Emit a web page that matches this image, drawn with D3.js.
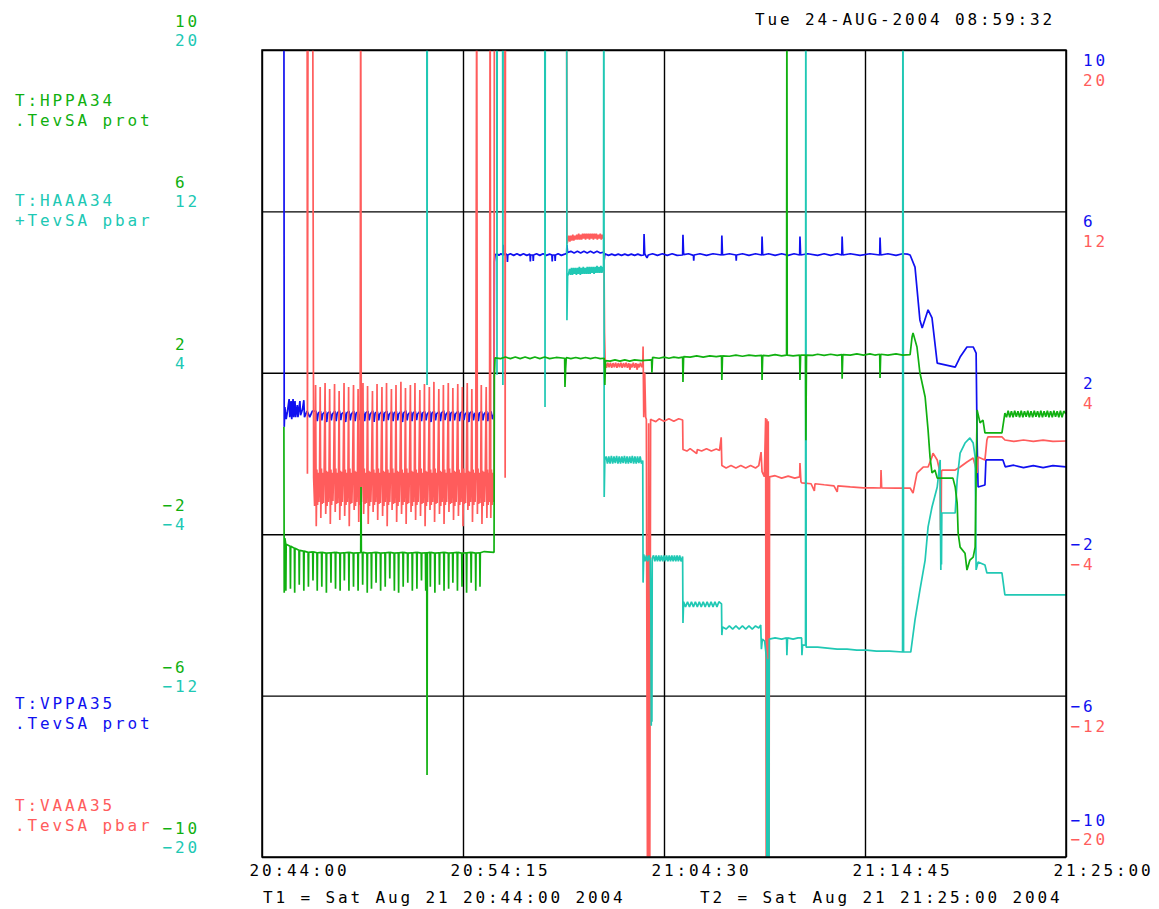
<!DOCTYPE html>
<html>
<head>
<meta charset="utf-8">
<script src="https://cdn.jsdelivr.net/npm/d3@7"></script>
<style>
  body{margin:0;background:#fff;}
  svg text{font-family:"DejaVu Sans Mono",monospace;font-size:16px;letter-spacing:2.87px;}
</style>
</head>
<body>
<svg id="chart" width="1159" height="909"></svg>
<script>
// time in seconds after T1 (20:44:00)
const tickTimes = [0, 615, 1230, 1845, 2460];
const tickLabels = ["20:44:00", "20:54:15", "21:04:30", "21:14:45", "21:25:00"];
const ticksProt = [10, 6, 2, -2, -6, -10];     // HPPA34 / VPPA35 scale
const ticksPbar = [20, 12, 4, -4, -12, -20];   // HAAA34 / VAAA35 scale
const stamp = "Tue 24-AUG-2004 08:59:32";
const t1Text = "T1 = Sat Aug 21 20:44:00 2004";
const t2Text = "T2 = Sat Aug 21 21:25:00 2004";

// T:VPPA35 (blue, -10..10)
const vppa35 = [
 [67,12],[68,0.66],[70,1.15],[74,0.85],[78,1.05],[83,1.35],[85,0.9],[89,1.3],[91,0.85],[95,1.35],[97,0.9],[101,1.3],[103,0.9],[108,1.2],[110,0.9],[116,1.3],[118,0.95],[124,1.1],[128,1.32],[130,0.9],[138,1.05],[146,0.9],[154,1.05],
 [165,1.05],[169,0.8],[172,1.0],[179,1.05],[183,0.82],[186,0.98],[194,1.05],[198,0.78],[201,1.0],[208,1.04],[212,0.82],[215,0.97],[223,1.05],[227,0.8],[230,1.0],[237,1.06],[241,0.83],[244,0.98],[252,1.04],[256,0.78],[259,1.0],[266,1.05],[270,0.82],[273,0.97],[281,1.05],[285,0.8],[288,1.0],[295,1.04],[299,0.83],[302,0.98],[310,1.05],[314,0.8],[317,1.0],[324,1.05],[328,0.82],[331,0.97],[339,1.06],[343,0.78],[346,1.0],[353,1.04],[357,0.82],[360,0.98],[368,1.05],[372,0.8],[375,1.0],[382,1.05],[386,0.83],[389,0.97],[397,1.04],[401,0.8],[404,1.0],[411,1.05],[415,0.82],[418,0.98],[426,1.05],[430,0.78],[433,1.0],[440,1.06],[444,0.82],[447,0.97],[455,1.04],[459,0.8],[462,1.0],[469,1.05],[473,0.83],[476,0.98],[484,1.05],[488,0.8],[491,1.0],[498,1.04],[502,0.82],[505,0.97],[513,1.05],[517,0.78],[520,1.0],[527,1.05],[531,0.82],[534,0.98],[542,1.04],[546,0.8],[549,1.0],[556,1.06],[560,0.83],[563,0.97],[571,1.05],[575,0.8],[578,1.0],[585,1.04],[589,0.82],[592,0.98],[600,1.05],[604,0.8],[607,1.0],[614,1.05],[618,0.83],[621,0.97],[629,1.04],[633,0.78],[636,1.0],[643,1.05],[647,0.82],[650,0.98],[658,1.05],[662,0.8],[665,1.0],[672,1.04],[676,0.82],[679,0.97],[687,1.05],[691,0.8],[694,1.0],[701,1.04],[705,0.85],[710,1.0],
 [711,4.75],[713,4.92],[719,4.95],[725,4.91],[731,4.95],[737,4.92],[738,5.17],[739,4.92],[745,4.95],[750,4.92],[751,4.75],[752,4.92],[760,4.95],[770,4.91],[780,4.95],[790,4.91],[800,4.95],[810,4.91],[820,4.94],[821,4.76],[822,4.92],[829,4.92],[830,4.77],[831,4.92],[840,4.95],[850,4.91],[860,4.95],[870,4.91],[880,4.94],[887,4.92],[888,4.76],[889,4.92],[896,4.92],[897,4.77],[898,4.92],[906,4.95],[916,4.91],[926,4.94],
 [932,4.96],[933,5.17],[935,4.98],[945,5.01],[955,4.97],[965,5.01],[975,4.97],[985,5.01],[995,4.97],[1005,5.01],[1015,4.97],[1025,5.01],[1035,4.97],[1046,4.99],[1047,4.8],[1049,4.95],[1060,4.91],[1070,4.94],[1080,4.91],[1090,4.94],[1100,4.91],[1110,4.94],[1120,4.91],[1130,4.94],[1140,4.91],[1150,4.94],[1160,4.91],[1168,4.92],[1169,5.44],[1171,4.95],[1178,4.85],[1182,4.92],
 [1195,4.95],[1210,4.91],[1225,4.95],[1240,4.91],[1255,4.95],[1270,4.91],[1287,4.92],[1288,5.42],[1290,4.93],[1305,4.95],[1320,4.91],[1321,4.78],[1322,4.92],[1340,4.95],[1360,4.91],[1380,4.95],[1406,4.92],[1407,5.4],[1409,4.92],[1430,4.95],[1450,4.92],[1451,4.78],[1452,4.92],[1470,4.95],[1490,4.91],[1510,4.95],[1529,4.92],[1530,5.38],[1532,4.92],
 [1550,4.95],[1570,4.91],[1590,4.95],[1610,4.91],[1628,4.95],[1645,4.92],[1646,5.38],[1648,4.92],[1670,4.95],[1700,4.91],[1720,4.95],[1740,4.91],[1760,4.95],[1774,4.92],[1775,5.38],[1777,4.92],[1800,4.95],[1830,4.91],[1860,4.95],[1890,4.92],[1891,5.35],[1893,4.92],[1915,4.95],[1940,4.91],[1960,4.95],[1975,4.94],[1983,4.92],
 [1998,4.62],[2013,3.31],[2020,3.11],[2038,3.56],[2050,3.36],[2066,2.24],[2121,2.14],[2136,2.39],[2157,2.64],[2176,2.64],[2185,2.49],[2188,0.33],[2191,-0.83],[2212,-0.78],[2215,-0.16],[2267,-0.16],[2274,-0.33],
 [2300,-0.29],[2330,-0.35],[2360,-0.3],[2390,-0.35],[2420,-0.3],[2460,-0.33]
];

// T:VAAA35 (red, -20..20)
const vaaa35 = [
 [0,25],[138,25],[139,-1.0],[141,25],[155,25],[158,-1.2],[161,-2.6],
 [164,3.4],[166,-3.6],[168,-0.8],[170,-2.55],[172,-0.95],[174,-2.4],[176,-1.05],
 [178,3.3],[180,-3.2],[182,-0.75],[184,-2.5],[186,-0.95],[188,-2.45],[190,-1.05],
 [193,3.5],[195,-3.0],[197,-0.85],[199,-2.6],[201,-0.9],[203,-2.4],[205,-1.1],
 [207,3.2],[209,-3.5],[211,-0.8],[213,-2.55],[215,-0.95],[217,-2.35],[219,-1.05],
 [222,3.45],[224,-2.9],[226,-0.75],[228,-2.5],[230,-0.95],[232,-2.45],[234,-1.05],
 [236,3.1],[238,-3.3],[240,-0.85],[242,-2.6],[244,-0.9],[246,-2.4],[248,-1.1],
 [251,3.5],[253,-3.1],[255,-0.8],[257,-2.55],[259,-0.95],[261,-2.4],[263,-1.05],
 [265,3.3],[267,-3.6],[269,-0.75],[271,-2.5],[273,-0.95],[275,-2.45],[277,-1.05],
 [280,3.4],[282,-2.8],[284,-0.85],[286,-2.6],[288,-0.9],[290,-2.4],[292,-1.1],
 [294,3.2],[296,-3.4],[298,-0.8],[300,-2.55],[302,25],[304,-2.4],[306,-1.05],
 [309,3.5],[311,-3.0],[313,-0.75],[315,-2.5],[317,-0.95],[319,-2.45],[321,-1.05],
 [323,3.35],[325,-3.5],[327,-0.85],[329,-2.6],[331,-0.9],[333,-2.4],[335,-1.1],
 [338,3.1],[340,-2.9],[342,-0.8],[344,-2.55],[346,-0.95],[348,-2.4],[350,-1.05],
 [352,3.45],[354,-3.3],[356,-0.75],[358,-2.5],[360,-0.95],[362,-2.45],[364,-1.05],
 [367,3.3],[369,-3.1],[371,-0.85],[373,-2.6],[375,-0.9],[377,-2.4],[379,-1.1],
 [381,3.5],[383,-3.6],[385,-0.8],[387,-2.55],[389,-0.95],[391,-2.4],[393,-1.05],
 [396,3.2],[398,-2.8],[400,-0.75],[402,-2.5],[404,-0.95],[406,-2.45],[408,-1.05],
 [410,3.4],[412,-3.4],[414,-0.85],[416,-2.6],[418,-0.9],[420,-2.4],[422,-1.1],
 [425,3.55],[427,-3.0],[429,-0.8],[431,-2.55],[433,-0.95],[435,-2.4],[437,-1.05],
 [439,3.25],[441,-3.5],[443,-0.75],[445,-2.5],[447,-0.95],[449,-2.45],[451,-1.05],
 [454,3.4],[456,-2.9],[458,-0.85],[460,-2.6],[462,-0.9],[464,-2.4],[466,-1.1],
 [468,3.5],[470,-3.3],[472,-0.8],[474,-2.55],[476,-0.95],[478,-2.4],[480,-1.05],
 [483,3.15],[485,-3.1],[487,-0.75],[489,-2.5],[491,-0.95],[493,-2.45],[495,-1.05],
 [497,3.45],[499,-3.6],[501,-0.85],[503,-2.6],[505,-0.9],[507,-2.4],[509,-1.1],
 [512,3.3],[514,-2.8],[516,-0.8],[518,-2.55],[520,-0.95],[522,-2.4],[524,-1.05],
 [526,3.55],[528,-3.4],[530,-0.75],[532,-2.5],[534,-0.95],[536,-2.45],[538,-1.05],
 [541,3.2],[543,-3.0],[545,-0.85],[547,-2.6],[549,-0.9],[551,-2.4],[553,-1.1],
 [555,3.4],[557,-3.5],[559,-0.8],[561,-2.55],[563,-0.95],[565,-2.4],[567,-1.05],
 [570,3.5],[572,-2.9],[574,-0.75],[576,-2.5],[578,-0.95],[580,-2.45],[582,-1.05],
 [584,3.25],[586,-3.3],[588,-0.85],[590,-2.6],[592,-0.9],[594,-2.4],[596,-1.1],
 [599,3.45],[601,-3.1],[603,-0.8],[605,-2.55],[607,-0.95],[609,-2.4],[611,-1.05],
 [613,3.3],[615,-3.6],[617,-0.75],[619,-2.5],[621,-0.95],[623,-2.45],[625,-1.05],
 [628,3.5],[630,-2.8],[632,-0.85],[634,-2.6],[636,-0.9],[638,-2.4],[640,-1.1],
 [642,3.2],[644,-3.4],[646,-0.8],[648,-2.55],[650,-0.95],[652,-2.4],[654,-1.05],
 [657,25],[659,-3.0],[661,-0.75],[663,-2.5],[665,-0.95],[667,-2.45],[669,-1.05],
 [671,3.4],[673,-3.5],[675,-0.85],[677,-2.6],[679,-0.9],[681,-2.4],[683,-1.1],
 [686,3.3],[688,-3.2],[690,-0.8],[692,-2.55],[694,-0.95],[696,-2.4],
 [698,25],[700,-3.2],[702,-0.8],[704,-2.55],[706,-0.95],[708,-2.4],[710,-1.1],
 [711,25],[743,25],[744,-1.2],[745,25],[932,25],
 [933,10.4],[936,10.55],[939,10.8],[942,10.5],[945,10.8],[948,10.55],[951,10.85],[954,10.55],[957,10.8],[960,10.6],[963,10.85],[966,10.6],[969,10.9],[972,10.6],[975,10.85],[978,10.6],[981,10.9],[984,10.65],[987,10.9],[990,10.6],[993,10.9],[996,10.65],[999,10.9],[1002,10.6],[1005,10.9],[1008,10.65],[1011,10.9],[1014,10.6],[1017,10.9],[1020,10.65],[1023,10.9],[1026,10.6],[1029,10.85],[1032,10.65],[1035,10.9],[1038,10.6],[1041,10.85],[1044,10.65],[1046,10.7],
 [1048,6.0],[1050,4.5],[1054,4.25],[1058,4.5],[1062,4.28],[1066,4.5],[1070,4.25],[1074,4.48],[1078,4.27],[1082,4.5],[1086,4.25],[1090,4.48],[1094,4.28],[1098,4.5],[1102,4.25],[1106,4.48],[1110,4.27],[1114,4.5],[1118,4.25],[1122,4.48],[1126,4.15],[1128,4.45],[1132,4.27],[1136,4.5],[1140,4.25],[1144,4.48],[1148,4.15],[1150,4.45],[1154,4.27],[1158,4.5],[1162,4.28],[1165,4.4],
 [1166,5.3],[1168,1.8],[1171,4.0],[1174,1.8],[1176,1.7],[1180,-25],[1183,1.5],[1186,-25],[1189,1.7],[1193,1.66],[1205,1.58],[1215,1.72],[1230,1.6],[1245,1.72],[1260,1.6],[1275,1.72],[1287,1.66],
 [1288,0.2],[1300,0.12],[1310,0.24],[1320,0.12],[1330,0.0],[1332,0.2],[1345,0.12],[1360,0.24],[1375,0.12],[1390,0.22],[1400,0.15],[1405,0.8],[1407,-0.6],[1420,-0.72],[1435,-0.6],[1450,-0.72],[1465,-0.6],[1480,-0.72],[1495,-0.6],[1510,-0.72],[1520,-0.6],[1527,0.07],[1530,-0.9],[1537,-1.15],
 [1541,1.76],[1543,-25],[1545,1.7],[1547,-25],[1549,1.6],[1551,-25],[1553,-1.16],[1570,-1.1],[1590,-1.22],[1610,-1.12],[1630,-1.22],[1645,-1.16],[1646,-0.47],[1649,-1.4],[1652,-1.46],
 [1680,-1.5],[1690,-1.85],[1692,-1.5],[1720,-1.55],[1750,-1.6],[1760,-1.9],[1762,-1.6],[1800,-1.65],[1840,-1.7],[1870,-1.7],[1893,-1.71],[1894,-0.82],[1896,-1.71],[1940,-1.72],[1983,-1.71],
 [1992,-1.96],[2004,-0.97],[2023,-0.67],[2038,-0.67],[2050,-0.17],[2053,0.02],[2066,-0.32],[2075,-0.97],[2076,-3.79],[2077,-0.82],[2078,-3.7],[2079,-0.9],[2081,-0.82],[2121,-0.82],[2136,-0.67],[2157,-0.42],[2176,-0.22],[2188,-0.97],[2191,-0.17],[2212,-0.32],[2218,0.67],[2221,0.82],[2264,0.82],[2273,0.67],
 [2300,0.6],[2330,0.67],[2360,0.6],[2390,0.66],[2420,0.6],[2460,0.62]
];

// T:HAAA34 (cyan, -20..20)
const haaa34 = [
 [0,30],[504,30],[505,3.4],[506,30],[718,30],[719,3.9],[720,30],[736,30],[737,3.4],[738,30],[865,30],[866,2.3],[867,30],[932,30],
 [933,6.6],[935,8.8],[938,8.9],[941,9.15],[944,8.85],[947,9.2],[950,8.85],[953,9.2],[956,8.9],[959,9.2],[962,8.85],[965,9.2],[968,8.9],[971,9.25],[974,8.85],[977,9.2],[980,8.9],[983,9.25],[986,8.9],[989,9.2],[992,8.9],[995,9.25],[998,8.9],[1001,9.25],[1004,8.9],[1007,9.25],[1010,8.95],[1013,9.25],[1016,8.9],[1019,9.25],[1022,8.95],[1025,9.3],[1028,8.95],[1031,9.25],[1034,8.95],[1037,9.3],[1040,8.95],[1043,9.25],[1045,9.1],
 [1046,30],[1047,-2.16],[1049,-0.3],[1053,-0.15],[1057,-0.5],[1061,-0.15],[1065,-0.5],[1069,-0.12],[1073,-0.5],[1077,-0.15],[1081,-0.48],[1085,-0.12],[1089,-0.5],[1093,-0.15],[1097,-0.5],[1101,-0.15],[1105,-0.48],[1109,-0.12],[1113,-0.5],[1117,-0.15],[1121,-0.5],[1125,-0.15],[1129,-0.48],[1133,-0.12],[1137,-0.5],[1141,-0.15],[1145,-0.5],[1149,-0.15],[1153,-0.48],[1157,-0.15],[1161,-0.5],[1165,-0.35],
 [1166,-6.4],[1168,-5.0],[1172,-5.35],[1176,-5.05],[1180,-5.35],[1184,-5.05],[1188,-5.3],[1190,-8.0],[1191,-13.5],[1192,-9],[1193,-13.3],[1194,-5.2],[1198,-5.05],[1202,-5.35],[1206,-5.05],[1210,-5.35],[1214,-5.05],[1218,-5.35],[1222,-5.05],[1226,-5.35],[1230,-5.05],[1234,-5.35],[1238,-5.05],[1242,-5.35],[1246,-5.05],[1250,-5.35],[1254,-5.05],[1258,-5.35],[1262,-5.05],[1266,-5.35],[1270,-5.05],[1274,-5.35],[1278,-5.05],[1282,-5.35],[1287,-5.1],
 [1288,-8.4],[1290,-7.35],[1296,-7.6],[1302,-7.35],[1308,-7.6],[1314,-7.35],[1320,-7.6],[1326,-7.35],[1332,-7.6],[1338,-7.35],[1344,-7.6],[1350,-7.35],[1356,-7.6],[1362,-7.35],[1368,-7.6],[1374,-7.35],[1380,-7.6],[1386,-7.35],[1392,-7.6],[1398,-7.35],[1406,-7.45],
 [1407,-9.0],[1409,-8.6],[1420,-8.7],[1430,-8.55],[1440,-8.7],[1450,-8.55],[1460,-8.7],[1470,-8.55],[1480,-8.7],[1490,-8.55],[1500,-8.7],[1510,-8.55],[1520,-8.65],[1526,-8.5],[1528,-9.7],[1531,-9.2],[1538,-9.3],
 [1544,-10.2],[1545,-25],[1546,-10.4],[1547,-25],[1548,-10.2],[1549,-25],[1550,-10.4],[1551,-25],[1552,-9.2],[1570,-9.14],[1590,-9.2],[1605,-9.14],[1606,-10.0],[1608,-9.14],[1625,-9.2],[1640,-9.14],[1651,-9.14],[1652,-10.0],[1654,-9.5],[1663,-9.5],
 [1664,30],[1665,-9.6],[1700,-9.6],[1730,-9.65],[1760,-9.7],[1790,-9.7],[1820,-9.75],[1850,-9.75],[1880,-9.8],[1920,-9.8],[1960,-9.84],[1961,30],[1963,-9.84],[1985,-9.84],
 [1998,-8.25],[2013,-6.77],[2029,-5.28],[2038,-3.64],[2050,-2.65],[2066,-1.66],[2075,-0.32],[2076,-3.64],[2077,-5.77],[2078,-3.0],[2079,-5.5],[2080,-2.95],[2121,-2.95],[2127,-1.31],[2136,0.02],[2151,0.52],[2166,0.77],[2176,0.52],[2182,-0.17],[2185,-5.77],[2191,-5.38],[2212,-5.53],[2218,-5.92],[2264,-5.92],[2273,-7.01],[2460,-7.01]
];

// T:HPPA34 (green, -10..10)
const hppa34 = [
 [67,0.66],[68,-3.45],[70,-2.1],
 [72,-2.2],[73,-3.4],[74,-2.25],[86,-2.3],[87,-3.35],[88,-2.3],[99,-2.35],[100,-3.45],[101,-2.35],[113,-2.4],[114,-3.25],[115,-2.4],
 [127,-2.42],[128,-3.4],[129,-2.42],[141,-2.45],[142,-3.3],[143,-2.45],[155,-2.44],[156,-3.15],[157,-2.44],[168,-2.46],[169,-3.4],[170,-2.46],
 [182,-2.45],[183,-3.3],[184,-2.45],[196,-2.47],[197,-3.45],[198,-2.47],[210,-2.46],[211,-3.2],[212,-2.46],[224,-2.45],[225,-3.35],[226,-2.45],
 [238,-2.47],[239,-3.4],[240,-2.47],[251,-2.46],[252,-3.15],[253,-2.46],[265,-2.45],[266,-3.4],[267,-2.45],[279,-2.47],[280,-3.3],[281,-2.47],
 [293,-2.46],[294,-3.4],[295,-2.46],[302,-2.46],[303,-0.83],[304,-2.46],[307,-2.45],[308,-3.25],[309,-2.45],[321,-2.47],[322,-3.45],[323,-2.47],
 [334,-2.46],[335,-3.35],[336,-2.46],[348,-2.45],[349,-3.2],[350,-2.45],[362,-2.47],[363,-3.4],[364,-2.47],[376,-2.46],[377,-3.3],[378,-2.46],
 [390,-2.45],[391,-3.1],[392,-2.45],[404,-2.47],[405,-3.4],[406,-2.47],[417,-2.46],[418,-3.45],[419,-2.46],[431,-2.45],[432,-3.3],[433,-2.45],
 [445,-2.47],[446,-3.2],[447,-2.47],[459,-2.46],[460,-3.4],[461,-2.46],[473,-2.45],[474,-3.35],[475,-2.45],[487,-2.47],[488,-3.15],[489,-2.47],
 [500,-2.46],[501,-3.4],[502,-2.46],[504,-2.46],[505,-7.97],[506,-2.46],[514,-2.45],[515,-3.3],[516,-2.45],[528,-2.47],[529,-3.45],[530,-2.47],
 [542,-2.46],[543,-3.25],[544,-2.46],[556,-2.45],[557,-3.4],[558,-2.45],[570,-2.47],[571,-3.35],[572,-2.47],[583,-2.46],[584,-3.2],[585,-2.46],
 [597,-2.45],[598,-3.4],[599,-2.45],[611,-2.47],[612,-3.3],[613,-2.47],[625,-2.46],[626,-3.45],[627,-2.46],[639,-2.45],[640,-3.2],[641,-2.45],
 [653,-2.47],[654,-3.4],[655,-2.47],[666,-2.46],[667,-3.3],[668,-2.46],[680,-2.43],[710,-2.45],
 [711,1.9],[713,2.37],[730,2.35],[745,2.39],[760,2.35],[775,2.39],[790,2.35],[805,2.39],[820,2.35],[835,2.39],[850,2.35],[865,2.39],[880,2.35],[900,2.38],[926,2.36],[927,1.65],[929,2.1],[931,2.38],[945,2.35],[960,2.38],[975,2.35],[990,2.38],[1005,2.35],[1020,2.38],[1035,2.35],[1047,2.36],[1049,1.7],[1051,2.3],
 [1065,2.29],[1080,2.32],[1095,2.29],[1110,2.32],[1125,2.29],[1140,2.32],[1160,2.3],[1192,2.32],[1193,2.0],[1195,2.38],[1215,2.36],[1230,2.39],[1245,2.36],[1260,2.39],[1275,2.37],[1287,2.39],[1288,1.77],[1290,2.4],[1310,2.39],[1330,2.42],[1350,2.39],[1370,2.42],[1390,2.4],[1406,2.42],[1407,1.82],[1409,2.42],
 [1430,2.41],[1450,2.44],[1470,2.41],[1490,2.44],[1510,2.42],[1529,2.43],[1530,1.82],[1532,2.43],[1550,2.42],[1570,2.45],[1590,2.42],[1605,2.44],[1606,12],[1607,2.44],[1625,2.42],[1645,2.44],[1646,1.82],[1648,2.44],[1663,2.44],[1664,0.33],[1666,2.44],
 [1685,2.43],[1700,2.46],[1720,2.43],[1740,2.46],[1760,2.43],[1774,2.45],[1775,1.85],[1777,2.45],[1800,2.44],[1820,2.47],[1840,2.44],[1860,2.47],[1875,2.44],[1890,2.46],[1891,1.87],[1893,2.46],[1915,2.44],[1940,2.47],[1960,2.44],[1983,2.45],
 [1989,2.89],[1992,2.99],[2004,2.64],[2013,2.0],[2029,1.4],[2038,0.58],[2044,-0.09],[2050,-0.48],[2059,-0.41],[2066,-0.61],[2114,-0.61],[2121,-0.83],[2127,-1.23],[2130,-1.97],[2136,-2.32],[2151,-2.47],[2157,-2.89],[2166,-2.64],[2176,-2.57],[2182,-2.32],
 [2188,1.08],[2197,0.76],[2206,0.83],[2212,0.51],[2264,0.51],[2273,1.0],
 [2278,0.9],[2283,1.06],[2288,0.9],[2293,1.05],[2298,0.9],[2303,1.06],[2308,0.91],[2313,1.05],[2318,0.9],[2323,1.06],[2328,0.9],[2333,1.05],[2338,0.91],[2343,1.06],[2348,0.9],[2353,1.05],[2358,0.9],[2363,1.06],[2368,0.91],[2373,1.05],[2378,0.9],[2383,1.06],[2388,0.9],[2393,1.05],[2398,0.91],[2403,1.06],[2408,0.9],[2413,1.05],[2418,0.9],[2423,1.06],[2428,0.91],[2433,1.05],[2438,0.9],[2443,1.06],[2448,0.9],[2453,1.05],[2460,0.98]
];

const green = "#10b010", cyan = "#20c8b4", blue = "#1010f0", red = "#ff5c5c";

function draw(){
  var plotL = 262, plotR = 1066, plotT = 50, plotB = 857;
  var svg = d3.select("#chart");

  var x = d3.scaleLinear().domain([0, 2460]).range([plotL, plotR]);
  var yProt = d3.scaleLinear().domain([-10, 10]).range([plotB, plotT]);
  var yPbar = d3.scaleLinear().domain([-20, 20]).range([plotB, plotT]);

  // grid
  var xGrid = d3.axisBottom(x).tickValues(tickTimes).tickSize(-(plotB - plotT)).tickFormat("");
  svg.append("g").attr("transform", "translate(0," + plotB + ")").call(xGrid)
     .call(g => g.select(".domain").remove())
     .selectAll("line").attr("stroke", "#000").attr("stroke-width", 1.4);
  var yGrid = d3.axisLeft(yProt).tickValues(ticksProt).tickSize(-(plotR - plotL)).tickFormat("");
  svg.append("g").attr("transform", "translate(" + plotL + ",0)").call(yGrid)
     .call(g => g.select(".domain").remove())
     .selectAll("line").attr("stroke", "#000").attr("stroke-width", 1.4);

  // traces
  svg.append("clipPath").attr("id", "plotclip")
     .append("rect").attr("x", plotL).attr("y", plotT).attr("width", plotR - plotL).attr("height", plotB - plotT);

  var traces = [
    {data: vppa35, y: yProt, color: blue},
    {data: vaaa35, y: yPbar, color: red},
    {data: haaa34, y: yPbar, color: cyan},
    {data: hppa34, y: yProt, color: green}
  ];
  var traceG = svg.append("g").attr("clip-path", "url(#plotclip)");
  traces.forEach(function(s){
    var line = d3.line().x(d => x(d[0])).y(d => s.y(d[1]));
    traceG.append("path").datum(s.data)
      .attr("d", line).attr("fill", "none")
      .attr("stroke", s.color).attr("stroke-width", 1.7)
      .attr("stroke-linejoin", "bevel");
  });

  // time axis labels
  var xAxis = d3.axisBottom(x).tickValues(tickTimes).tickSize(0)
                .tickFormat((d, i) => tickLabels[i]);
  svg.append("g").attr("transform", "translate(0," + plotB + ")").call(xAxis)
     .call(g => g.select(".domain").remove())
     .call(g => g.attr("font-size", null).attr("font-family", null))
     .selectAll("text")
       .attr("text-anchor", "start").attr("x", -13).attr("y", 19).attr("dy", null)
       .attr("fill", "#000");

  // value labels, a sign column then digits
  function valueLabels(vals, scale, digitX, dy, color){
    svg.append("g").selectAll("text").data(vals).join("text")
      .attr("x", d => d < 0 ? digitX - 12.5 : digitX)
      .attr("y", d => scale(d) + dy)
      .attr("fill", color)
      .text(d => d < 0 ? "\u2212" + Math.abs(d) : d);
  }
  valueLabels(ticksProt, yProt, 175, -23, green);
  valueLabels(ticksPbar, yPbar, 175, -4, cyan);
  valueLabels(ticksProt.slice(0, 5), yProt, 1083, 16, blue);
  valueLabels(ticksPbar.slice(0, 5), yPbar, 1083, 36, red);
  valueLabels(ticksProt.slice(5), yProt, 1083, -31, blue);
  valueLabels(ticksPbar.slice(5), yPbar, 1083, -12, red);

  // plot frame
  svg.append("rect").attr("x", plotL).attr("y", plotT)
     .attr("width", plotR - plotL).attr("height", plotB - plotT)
     .attr("fill", "none").attr("stroke", "#000").attr("stroke-width", 1.5);

  // channel names
  var names = [
    {lines: ["T:HPPA34", ".TevSA prot"], y: 106, color: green},
    {lines: ["T:HAAA34", "+TevSA pbar"], y: 206, color: cyan},
    {lines: ["T:VPPA35", ".TevSA prot"], y: 709, color: blue},
    {lines: ["T:VAAA35", ".TevSA pbar"], y: 811, color: red}
  ];
  names.forEach(function(n){
    n.lines.forEach(function(t, i){
      svg.append("text").attr("x", 15).attr("y", n.y + i * 20)
         .attr("fill", n.color).style("white-space", "pre").text(t);
    });
  });

  svg.append("text").attr("x", 755).attr("y", 25).attr("fill", "#000").text(stamp);
  svg.append("text").attr("x", 263).attr("y", 903).attr("fill", "#000").style("white-space", "pre").text(t1Text);
  svg.append("text").attr("x", 700).attr("y", 903).attr("fill", "#000").style("white-space", "pre").text(t2Text);
}

draw();
</script>
</body>
</html>
